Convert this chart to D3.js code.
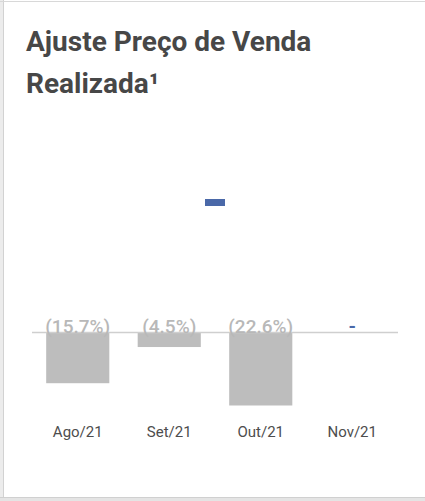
<!DOCTYPE html>
<html>
<head>
<meta charset="utf-8">
<script src="https://cdn.jsdelivr.net/npm/d3@7/dist/d3.min.js"></script>
<style>
  html, body { margin: 0; padding: 0; background: #fff; }
  svg { display: block; }
</style>
</head>
<body>
<div id="chart"></div>
<script>
// Monthly realized sales-price adjustment (%)
const categories = ["Ago/21", "Set/21", "Out/21", "Nov/21"];
const values = [-15.7, -4.5, -22.6, null];
const valueLabels = ["(15.7%)", "(4.5%)", "(22.6%)", "-"];
const titleLines = ["Ajuste Preço de Venda", "Realizada¹"];

const W = 425, H = 501;
const svg = d3.select("#chart").append("svg")
  .attr("width", W).attr("height", H);

// card frame
svg.append("rect").attr("x", 0).attr("y", 0).attr("width", W).attr("height", H).attr("fill", "#fff");
svg.append("rect").attr("x", 0).attr("y", 0).attr("width", 3).attr("height", H).attr("fill", "#ececec");
svg.append("line").attr("x1", 3.5).attr("x2", 3.5).attr("y1", 0).attr("y2", H)
  .attr("stroke", "#d2d2d2").attr("stroke-width", 1);
svg.append("line").attr("x1", 0).attr("x2", W).attr("y1", 1.5).attr("y2", 1.5)
  .attr("stroke", "#d8d8d8").attr("stroke-width", 1);
svg.append("rect").attr("x", 0).attr("y", 497).attr("width", W).attr("height", 4).attr("fill", "#e4e4e4");
svg.append("line").attr("x1", 0).attr("x2", W).attr("y1", 497.5).attr("y2", 497.5)
  .attr("stroke", "#d0d0d0").attr("stroke-width", 1);

// title
svg.append("text")
  .attr("x", 26).attr("y", 51)
  .attr("font-family", "Roboto, sans-serif")
  .attr("font-weight", 700).attr("font-size", 28)
  .attr("fill", "#474747")
  .selectAll("tspan").data(titleLines).join("tspan")
  .attr("x", 26).attr("dy", (d, i) => i === 0 ? 0 : 42)
  .text(d => d);

// scales
const x = d3.scaleBand().domain(categories).range([32, 398]).paddingInner(0.31).paddingOuter(0.155);
const y = d3.scaleLinear().domain([0, -22.6]).range([332.5, 405.5]);

// legend swatch
svg.append("rect")
  .attr("x", 205).attr("y", 199).attr("width", 20).attr("height", 7)
  .attr("fill", "#4a68a8");

// bars
svg.append("g").selectAll("rect")
  .data(categories.map((c, i) => ({ c, v: values[i] })).filter(d => d.v != null))
  .join("rect")
  .attr("x", d => x(d.c))
  .attr("width", x.bandwidth())
  .attr("y", y(0))
  .attr("height", d => y(d.v) - y(0))
  .attr("fill", "#bdbdbd");

// zero line
svg.append("line")
  .attr("x1", 32).attr("x2", 398)
  .attr("y1", y(0)).attr("y2", y(0))
  .attr("stroke", "#cfcfcf").attr("stroke-width", 1.5);

// value labels
svg.append("g").selectAll("text")
  .data(categories.map((c, i) => ({ c, v: values[i], t: valueLabels[i] })))
  .join("text")
  .attr("x", d => x(d.c) + x.bandwidth() / 2)
  .attr("y", y(0))
  .attr("text-anchor", "middle")
  .attr("font-family", "Roboto, sans-serif")
  .attr("font-size", 19)
  .attr("font-weight", d => d.v == null ? 700 : 500)
  .style("fill", d => d.v == null ? "#4a68a8" : "#b8b8b8")
  .text(d => d.t);

// category axis
const axis = svg.append("g")
  .attr("transform", "translate(0,437)")
  .call(d3.axisBottom(x).tickSize(0).tickPadding(0));
axis.select(".domain").remove();
axis.selectAll("text")
  .attr("dy", 0)
  .attr("font-family", "Roboto, sans-serif")
  .attr("font-size", 15)
  .attr("fill", "#4d4d4d");
</script>
</body>
</html>
